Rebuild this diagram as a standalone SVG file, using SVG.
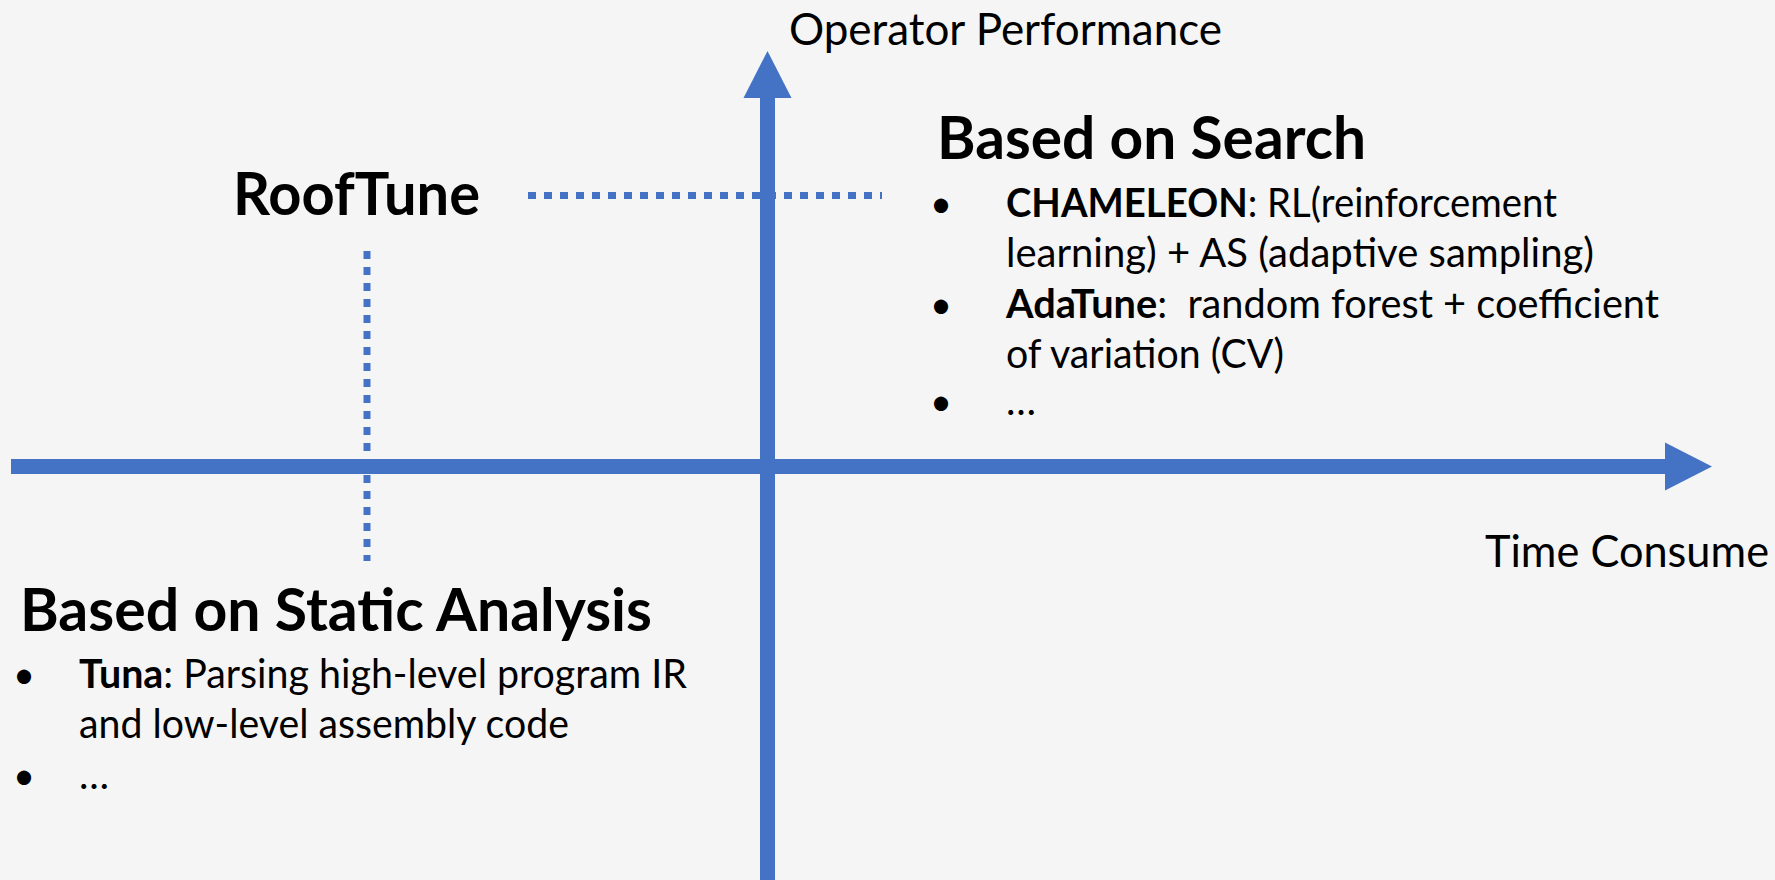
<svg xmlns="http://www.w3.org/2000/svg" width="1775" height="880" viewBox="0 0 1775 880">
<style>
  .bg { fill: #f5f5f5; }
  .axis { stroke: #4472c4; stroke-width: 15; fill: none; }
  .dot { stroke: #4472c4; stroke-width: 7; stroke-dasharray: 8 8; fill: none; }
  .head { fill: #4472c4; }
  text { font-family: Lato, "Open Sans", "Liberation Sans", sans-serif; fill: #000; }
  .h { font-size: 59.5px; font-weight: 700; }
  .lab { font-size: 43.5px; font-weight: 400; }
  .b { font-size: 40px; font-weight: 400; }
  .bold { font-weight: 700; }
  .bul { font-size: 38px; text-anchor: middle; }
</style>
<defs>
  <marker id="arr" markerUnits="userSpaceOnUse" markerWidth="48" markerHeight="50" refX="0" refY="24" orient="auto" overflow="visible">
    <polygon class="head" points="0,0 47,24 0,48"/>
  </marker>
</defs>
<rect class="bg" x="0" y="0" width="1775" height="880"/>

<g id="connectors">
  <line class="dot" x1="528" y1="195.5" x2="882" y2="195.5"/>
  <line class="dot" x1="367" y1="251" x2="367" y2="561"/>
  <line class="axis" x1="11" y1="466.5" x2="1665" y2="466.5" marker-end="url(#arr)"/>
  <line class="axis" x1="767.5" y1="880" x2="767.5" y2="98" marker-end="url(#arr)"/>
</g>

<g id="label-y">
  <text class="lab" x="789" y="45" textLength="433" lengthAdjust="spacingAndGlyphs">Operator Performance</text>
</g>
<g id="label-x">
  <text class="lab" x="1485" y="567" textLength="284" lengthAdjust="spacingAndGlyphs">Time Consume</text>
</g>

<g id="rooftune">
  <text class="h" x="233" y="215" textLength="247" lengthAdjust="spacingAndGlyphs">RoofTune</text>
</g>

<g id="search">
  <text class="h" x="937" y="159" textLength="429" lengthAdjust="spacingAndGlyphs">Based on Search</text>
  <text class="bul" x="941" y="217">•</text>
  <text class="b" x="1006" y="217" textLength="551" lengthAdjust="spacingAndGlyphs"><tspan class="bold">CHAMELEON</tspan>: RL(reinforcement</text>
  <text class="b" x="1006" y="267" textLength="588" lengthAdjust="spacingAndGlyphs">learning) + AS (adaptive sampling)</text>
  <text class="bul" x="941" y="318">•</text>
  <text class="b" x="1006" y="318" textLength="653" lengthAdjust="spacingAndGlyphs" xml:space="preserve"><tspan class="bold">AdaTune</tspan>:  random forest + coefficient</text>
  <text class="b" x="1006" y="368" textLength="278" lengthAdjust="spacingAndGlyphs">of variation (CV)</text>
  <text class="bul" x="941" y="415">•</text>
  <text class="b" x="1006" y="415">…</text>
</g>

<g id="static">
  <text class="h" x="20" y="631" textLength="632" lengthAdjust="spacingAndGlyphs">Based on Static Analysis</text>
  <text class="bul" x="24" y="688">•</text>
  <text class="b" x="79" y="688" textLength="608" lengthAdjust="spacingAndGlyphs"><tspan class="bold">Tuna</tspan>: Parsing high-level program IR</text>
  <text class="b" x="79" y="738" textLength="490" lengthAdjust="spacingAndGlyphs">and low-level assembly code</text>
  <text class="bul" x="24" y="789">•</text>
  <text class="b" x="79" y="789">…</text>
</g>
</svg>
